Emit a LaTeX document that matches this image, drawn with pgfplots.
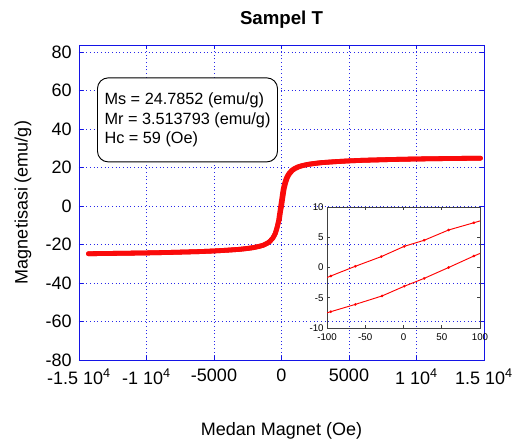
\documentclass[border=0pt]{standalone}
\usepackage{pgfplots}
\pgfplotsset{compat=1.18}
\usepackage{fontspec}
\setmainfont{Liberation Sans}
\definecolor{frameblue}{RGB}{20,20,230}
\definecolor{gridblue}{RGB}{40,40,235}
\definecolor{curvered}{RGB}{250,10,10}
\begin{document}
\begin{tikzpicture}
\begin{axis}[
  name=main,
  scale only axis,
  width=303.75pt, height=236.25pt,
  xmin=-15000, xmax=15000, ymin=-80, ymax=83.6,
  scaled x ticks=false,
  xtick={-15000,-10000,-5000,0,5000,10000,15000},
  xticklabels={-1.5 10\textsuperscript{4},-1 10\textsuperscript{4},-5000,0,5000,1 10\textsuperscript{4},1.5 10\textsuperscript{4}},
  ytick={-80,-60,-40,-20,0,20,40,60,80},
  /pgf/number format/assume math mode=true,
  ticklabel style={font=\fontsize{13.5}{15}\selectfont, text=black},
  xticklabel style={yshift=-3pt},
  yticklabel style={xshift=-2pt},
  axis line style={frameblue, line width=0.7pt},
  every tick/.style={frameblue, line width=0.6pt},
  major tick length=3pt,
  tick align=inside,
  grid=major,
  major grid style={gridblue, line width=0.6pt, dash pattern=on 0.75pt off 2pt},
  title={Sampel T},
  title style={font=\bfseries\fontsize{14}{16}\selectfont, yshift=3pt},
  xlabel={Medan Magnet (Oe)},
  ylabel={Magnetisasi (emu/g)},
  every axis x label/.style={at={(rel axis cs:0.5,0)}, yshift=-53pt, anchor=center, font=\fontsize{13.5}{15}\selectfont},
  every axis y label/.style={at={(rel axis cs:0,0.5)}, xshift=-42pt, rotate=90, anchor=center, font=\fontsize{13.5}{15}\selectfont},
]
\addplot[curvered, line width=3.6pt, line join=round, line cap=round] coordinates {
(14741,24.8) (11941,24.6) (9941,24.4) (7941,24.1) (5941,23.7) (4941,23.4) (3941,23.0) (2941,22.5) (2441,22.1) (1941,21.6) (1541,21.0) (1241,20.4) (941,19.4) (741,18.4) (541,16.8) (441,15.7) (341,14.2) (241,12.0) (141,9.2) (91,7.2) (41,4.8) (-9,2.4) (-59,0) (-109,-2.4) (-159,-4.8) (-209,-7.2) (-259,-9.2) (-359,-12.0) (-459,-14.2) (-559,-15.7) (-659,-16.8) (-859,-18.4) (-1059,-19.4) (-1359,-20.4) (-1659,-21.0) (-2059,-21.6) (-2559,-22.1) (-3059,-22.5) (-4059,-23.0) (-5059,-23.4) (-6059,-23.7) (-8059,-24.1) (-10059,-24.4) (-12059,-24.6) (-14300,-24.8)
};
\addplot[curvered, line width=3.6pt, line join=round, line cap=round] coordinates {
(-14300,-24.8) (-12059,-24.6) (-10059,-24.4) (-8059,-24.1) (-6059,-23.7) (-5059,-23.4) (-4059,-23.0) (-3059,-22.5) (-2559,-22.1) (-2059,-21.6) (-1659,-21.0) (-1359,-20.4) (-1059,-19.4) (-859,-18.4) (-659,-16.8) (-559,-15.7) (-459,-14.2) (-359,-12.0) (-259,-9.2) (-159,-7.2) (-109,-4.8) (-59,-2.4) (9,0) (59,2.4) (109,4.8) (159,7.2) (209,9.2) (309,12.0) (409,14.2) (509,15.7) (609,16.8) (809,18.4) (1009,19.4) (1309,20.4) (1609,21.0) (2009,21.6) (2509,22.1) (3009,22.5) (4009,23.0) (5009,23.4) (6009,23.7) (8009,24.1) (10009,24.4) (12009,24.6) (14741,24.8)
};
\node[draw=black, line width=0.7pt, rounded corners=8pt, align=left, anchor=center,
      minimum width=135pt, minimum height=63pt, inner xsep=5pt,
      font=\fontsize{12.2}{14.5}\selectfont, fill=white]
  at (axis cs:-6963,44.7) {Ms = 24.7852 (emu/g)\\Mr = 3.513793 (emu/g)\\Hc = 59 (Oe)};
\end{axis}
\begin{axis}[
  at={(186pt,24pt)}, anchor=south west,
  scale only axis,
  width=114.75pt, height=90.75pt,
  xmin=-100, xmax=100, ymin=-10, ymax=10,
  xtick={-100,-50,0,50,100},
  ytick={-10,-5,0,5,10},
  /pgf/number format/assume math mode=true,
  ticklabel style={font=\fontsize{7.3}{8}\selectfont, text=black},
  xticklabel style={yshift=-0.5pt},
  yticklabel style={xshift=1pt},
  axis line style={black!75, line width=0.6pt},
  every tick/.style={black!75, line width=0.5pt},
  major tick length=2.5pt,
  tick align=inside,
  clip=true,
]
\addplot[red, line width=0.7pt, mark=*, mark size=0.6pt] coordinates {
(-130,-3.2) (-95,-1.4) (-63,0.2) (-29,1.8) (1,3.5) (27,4.5) (59,6.2) (92,7.4) (130,8.8)
};
\addplot[red, line width=0.7pt, mark=*, mark size=0.6pt] coordinates {
(-130,-8.7) (-95,-7.3) (-63,-6.1) (-28,-4.7) (1,-3.1) (27,-1.8) (59,0) (92,1.9) (130,3.9)
};
\end{axis}
\pgfresetboundingbox
\path[use as bounding box] (-59.25pt,-60.75pt) rectangle (339pt,270pt);
\end{tikzpicture}
\end{document}
